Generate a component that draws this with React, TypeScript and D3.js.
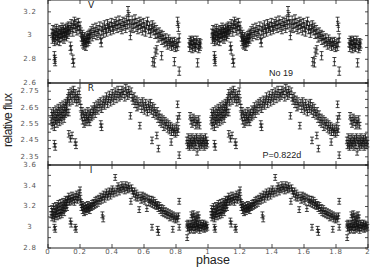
import { useMemo } from "react";
import * as d3 from "d3";

const WIDTH = 374;
const HEIGHT = 267;
const LEFT = 48;
const RIGHT = 368;

// folded light curve, phase 0..1 (drawn twice, 0..2)
const vData: [number, number][] = [
  [0.025, 3.02], [0.028, 2.97], [0.031, 3.05], [0.034, 2.99], [0.037, 3.01], [0.04, 2.95], [0.043, 3.04], [0.046, 3.0],
  [0.049, 2.97], [0.052, 3.06], [0.055, 3.02], [0.058, 2.96], [0.061, 3.0], [0.064, 3.04], [0.067, 2.98], [0.07, 3.02],
  [0.073, 2.95], [0.076, 3.05], [0.079, 3.01], [0.082, 2.98], [0.085, 3.03], [0.088, 3.07], [0.091, 2.99], [0.094, 3.02],
  [0.097, 3.05], [0.1, 2.97], [0.103, 3.03], [0.106, 3.0], [0.109, 3.06], [0.112, 3.02], [0.115, 2.99], [0.118, 3.04],
  [0.121, 3.07], [0.124, 3.01], [0.127, 3.05], [0.13, 3.08], [0.133, 3.03],
  [0.04, 2.83], [0.042, 2.8], [0.045, 2.78], [0.14, 2.91], [0.145, 2.88], [0.155, 2.8], [0.16, 2.77],
  [0.14, 3.05], [0.145, 3.1], [0.15, 3.07], [0.155, 3.03], [0.16, 3.09], [0.165, 3.12], [0.17, 3.06], [0.175, 3.1],
  [0.18, 3.04], [0.185, 3.08], [0.19, 3.11], [0.195, 3.05], [0.2, 3.08], [0.205, 3.03],
  [0.21, 2.99], [0.213, 2.95], [0.216, 3.01], [0.219, 2.93], [0.222, 2.97], [0.225, 2.92], [0.228, 2.99], [0.231, 2.94],
  [0.234, 2.96], [0.237, 2.91], [0.24, 2.98], [0.243, 2.94], [0.246, 2.97], [0.249, 3.0], [0.252, 2.95], [0.255, 2.98],
  [0.258, 3.01], [0.261, 2.97], [0.264, 3.02],
  [0.27, 3.04], [0.276, 2.99], [0.282, 3.06], [0.288, 3.01], [0.294, 3.03], [0.3, 3.07], [0.306, 3.0], [0.312, 3.05],
  [0.318, 3.02], [0.324, 3.08], [0.33, 2.97], [0.333, 2.94], [0.336, 3.04], [0.342, 3.07], [0.348, 3.02], [0.354, 3.09],
  [0.36, 3.05], [0.366, 3.03], [0.372, 3.1], [0.378, 3.06], [0.384, 3.08], [0.39, 3.04], [0.396, 3.11], [0.402, 3.07],
  [0.408, 3.05], [0.414, 3.1], [0.42, 3.08], [0.426, 3.12], [0.432, 3.06], [0.438, 3.09], [0.444, 3.13], [0.45, 3.07],
  [0.456, 3.1], [0.462, 3.05], [0.468, 3.12], [0.474, 3.08], [0.48, 3.11], [0.486, 3.06], [0.492, 3.13], [0.498, 3.09],
  [0.5, 3.21], [0.505, 3.16], [0.51, 3.1], [0.515, 3.0],
  [0.52, 3.08], [0.526, 3.13], [0.532, 3.06], [0.538, 3.1], [0.544, 3.14], [0.55, 3.07], [0.556, 3.11], [0.562, 3.05],
  [0.568, 3.09], [0.574, 3.12], [0.58, 3.06], [0.586, 3.1], [0.592, 3.04], [0.598, 3.11], [0.604, 3.07], [0.61, 3.03],
  [0.616, 3.09], [0.622, 3.12], [0.628, 3.05], [0.634, 3.08], [0.64, 3.02], [0.646, 3.06], [0.652, 3.09], [0.658, 3.04],
  [0.664, 3.07], [0.67, 3.01], [0.676, 3.05],
  [0.682, 3.02], [0.688, 2.98], [0.694, 3.03], [0.7, 2.99], [0.706, 3.01], [0.712, 2.96], [0.718, 3.0], [0.724, 2.97],
  [0.73, 2.94], [0.736, 2.98], [0.742, 2.95], [0.748, 2.92], [0.754, 2.97], [0.76, 2.93], [0.766, 2.95], [0.772, 2.91],
  [0.778, 2.94], [0.784, 2.92], [0.79, 2.95], [0.796, 2.9], [0.802, 2.93], [0.808, 2.91], [0.814, 2.94],
  [0.655, 2.78], [0.665, 2.77], [0.67, 2.86], [0.68, 2.88], [0.71, 2.83], [0.79, 2.78], [0.82, 2.7],
  [0.81, 3.12], [0.815, 3.07], [0.82, 2.98],
  [0.882, 2.94], [0.886, 2.9], [0.89, 2.96], [0.894, 2.92], [0.898, 2.95], [0.902, 2.89], [0.906, 2.93], [0.91, 2.96],
  [0.914, 2.91], [0.918, 2.94], [0.922, 2.9], [0.926, 2.93], [0.93, 2.96], [0.935, 2.77], [0.938, 2.92], [0.942, 2.89],
  [0.946, 2.94], [0.95, 2.91], [0.954, 2.93],
];

const rData: [number, number][] = [
  [0.02, 2.57], [0.023, 2.62], [0.026, 2.54], [0.029, 2.6], [0.032, 2.56], [0.035, 2.63], [0.038, 2.58], [0.041, 2.53],
  [0.044, 2.61], [0.047, 2.57], [0.05, 2.64], [0.053, 2.59], [0.056, 2.55], [0.059, 2.62], [0.062, 2.58], [0.065, 2.65],
  [0.068, 2.6], [0.071, 2.56], [0.074, 2.63], [0.077, 2.59], [0.08, 2.66], [0.083, 2.61], [0.086, 2.57], [0.089, 2.64],
  [0.092, 2.6], [0.095, 2.67], [0.098, 2.62], [0.101, 2.58], [0.104, 2.65], [0.107, 2.61], [0.11, 2.68], [0.113, 2.63],
  [0.116, 2.66], [0.119, 2.62], [0.122, 2.69],
  [0.04, 2.43], [0.045, 2.41], [0.13, 2.49], [0.14, 2.46], [0.15, 2.48], [0.17, 2.44], [0.175, 2.42], [0.13, 2.62],
  [0.125, 2.71], [0.13, 2.74], [0.135, 2.68], [0.14, 2.72], [0.145, 2.75], [0.15, 2.69], [0.155, 2.73], [0.16, 2.76],
  [0.165, 2.7], [0.17, 2.74], [0.175, 2.71], [0.18, 2.68], [0.185, 2.73], [0.19, 2.7], [0.195, 2.75], [0.2, 2.69],
  [0.205, 2.65], [0.209, 2.6], [0.213, 2.63], [0.217, 2.57], [0.221, 2.61], [0.225, 2.55], [0.229, 2.59], [0.233, 2.62],
  [0.237, 2.56], [0.241, 2.6], [0.245, 2.57], [0.249, 2.63], [0.253, 2.58], [0.257, 2.61], [0.261, 2.56], [0.265, 2.62],
  [0.27, 2.59], [0.275, 2.64], [0.28, 2.6], [0.285, 2.63], [0.29, 2.66], [0.295, 2.61], [0.3, 2.64],
  [0.33, 2.55], [0.335, 2.53],
  [0.306, 2.67], [0.312, 2.63], [0.318, 2.68], [0.324, 2.65], [0.33, 2.69], [0.336, 2.64], [0.342, 2.67], [0.348, 2.7],
  [0.354, 2.66], [0.36, 2.69], [0.366, 2.72], [0.372, 2.67], [0.378, 2.7], [0.384, 2.73], [0.39, 2.68], [0.396, 2.71],
  [0.402, 2.74], [0.408, 2.69], [0.414, 2.72], [0.42, 2.75], [0.426, 2.7], [0.432, 2.73], [0.438, 2.76], [0.444, 2.71],
  [0.45, 2.74], [0.456, 2.72], [0.462, 2.76], [0.468, 2.73], [0.474, 2.75], [0.48, 2.71], [0.486, 2.77], [0.492, 2.74],
  [0.498, 2.72], [0.504, 2.76], [0.51, 2.73], [0.515, 2.6], [0.52, 2.75], [0.526, 2.71],
  [0.532, 2.69], [0.538, 2.72], [0.544, 2.67], [0.55, 2.7], [0.556, 2.65], [0.562, 2.69], [0.568, 2.66], [0.574, 2.54],
  [0.58, 2.68], [0.586, 2.64], [0.592, 2.69], [0.598, 2.66], [0.604, 2.63], [0.61, 2.68], [0.616, 2.65], [0.622, 2.62],
  [0.628, 2.67], [0.634, 2.64], [0.64, 2.68], [0.646, 2.63], [0.652, 2.66], [0.658, 2.61], [0.664, 2.65], [0.67, 2.62],
  [0.676, 2.6], [0.682, 2.63],
  [0.688, 2.58], [0.694, 2.61], [0.7, 2.56], [0.706, 2.59], [0.712, 2.55], [0.718, 2.58], [0.724, 2.53], [0.73, 2.57],
  [0.736, 2.54], [0.742, 2.56], [0.748, 2.52], [0.754, 2.55], [0.76, 2.51], [0.766, 2.54], [0.772, 2.5], [0.778, 2.53],
  [0.784, 2.5], [0.79, 2.52], [0.796, 2.49], [0.802, 2.53], [0.808, 2.5], [0.814, 2.52],
  [0.65, 2.45], [0.68, 2.48], [0.69, 2.4], [0.77, 2.44], [0.81, 2.67], [0.81, 2.58], [0.82, 2.36], [0.82, 2.6],
  [0.888, 2.6], [0.894, 2.57], [0.9, 2.55], [0.906, 2.59], [0.912, 2.56], [0.918, 2.58], [0.924, 2.54], [0.93, 2.57],
  [0.936, 2.55], [0.942, 2.58], [0.948, 2.54],
  [0.868, 2.45], [0.872, 2.42], [0.876, 2.47], [0.88, 2.43], [0.884, 2.41], [0.888, 2.46], [0.892, 2.44], [0.896, 2.42],
  [0.9, 2.47], [0.904, 2.43], [0.908, 2.45], [0.912, 2.41], [0.916, 2.46], [0.92, 2.44], [0.924, 2.42], [0.928, 2.47],
  [0.932, 2.38], [0.936, 2.45], [0.94, 2.43], [0.944, 2.46], [0.948, 2.41], [0.952, 2.44], [0.956, 2.47], [0.96, 2.42],
  [0.964, 2.45], [0.968, 2.43], [0.972, 2.46], [0.976, 2.41], [0.98, 2.44], [0.984, 2.47], [0.988, 2.42], [0.992, 2.45],
  [0.996, 2.43],
];

const iData: [number, number][] = [
  [0.02, 3.12], [0.023, 3.18], [0.026, 3.09], [0.029, 3.15], [0.032, 3.11], [0.035, 3.2], [0.038, 3.13], [0.041, 3.08],
  [0.044, 3.17], [0.047, 3.12], [0.05, 3.21], [0.053, 3.15], [0.056, 3.1], [0.059, 3.19], [0.062, 3.13], [0.065, 3.23],
  [0.068, 3.16], [0.071, 3.11], [0.074, 3.2], [0.077, 3.14], [0.08, 3.24], [0.083, 3.17], [0.086, 3.12], [0.089, 3.21],
  [0.092, 3.16], [0.095, 3.25], [0.098, 3.19], [0.101, 3.14], [0.104, 3.23], [0.107, 3.18], [0.11, 3.27], [0.113, 3.21],
  [0.116, 3.24], [0.119, 3.19], [0.122, 3.26],
  [0.04, 3.0], [0.045, 2.98], [0.14, 3.06], [0.145, 3.03], [0.17, 3.0], [0.175, 2.98],
  [0.125, 3.27], [0.13, 3.3], [0.135, 3.24], [0.14, 3.28], [0.145, 3.25], [0.15, 3.31], [0.155, 3.26], [0.16, 3.29],
  [0.165, 3.24], [0.17, 3.3], [0.175, 3.27], [0.18, 3.32], [0.185, 3.26], [0.19, 3.29], [0.195, 3.33], [0.2, 3.36],
  [0.202, 3.28],
  [0.205, 3.24], [0.209, 3.19], [0.213, 3.22], [0.217, 3.16], [0.221, 3.2], [0.225, 3.14], [0.229, 3.18], [0.233, 3.21],
  [0.237, 3.15], [0.241, 3.19], [0.245, 3.17], [0.249, 3.22], [0.253, 3.18], [0.257, 3.2], [0.261, 3.16], [0.265, 3.21],
  [0.27, 3.19], [0.275, 3.23], [0.28, 3.2], [0.285, 3.24], [0.29, 3.21], [0.295, 3.26], [0.3, 3.22],
  [0.34, 3.12], [0.345, 3.08],
  [0.306, 3.27], [0.312, 3.23], [0.318, 3.28], [0.324, 3.25], [0.33, 3.3], [0.336, 3.26], [0.342, 3.29], [0.348, 3.32],
  [0.354, 3.27], [0.36, 3.31], [0.366, 3.34], [0.372, 3.29], [0.378, 3.32], [0.384, 3.35], [0.39, 3.3], [0.396, 3.34],
  [0.402, 3.37], [0.408, 3.32], [0.414, 3.35], [0.42, 3.48], [0.426, 3.33], [0.432, 3.37], [0.438, 3.4], [0.444, 3.34],
  [0.45, 3.38], [0.456, 3.36], [0.462, 3.41], [0.468, 3.37], [0.474, 3.39], [0.48, 3.35], [0.486, 3.41], [0.492, 3.38],
  [0.498, 3.36], [0.504, 3.4], [0.51, 3.37], [0.518, 3.25], [0.522, 3.38], [0.528, 3.35],
  [0.534, 3.32], [0.54, 3.35], [0.546, 3.29], [0.552, 3.33], [0.558, 3.28], [0.564, 3.31], [0.57, 3.17], [0.576, 3.29],
  [0.582, 3.26], [0.588, 3.31], [0.594, 3.27], [0.6, 3.3], [0.606, 3.25], [0.612, 3.29], [0.618, 3.18], [0.624, 3.28],
  [0.63, 3.24], [0.636, 3.27], [0.642, 3.23], [0.648, 3.27], [0.654, 3.22], [0.66, 3.26], [0.666, 3.21], [0.672, 3.24],
  [0.678, 3.2], [0.684, 3.22],
  [0.69, 3.18], [0.696, 3.21], [0.702, 3.16], [0.708, 3.19], [0.714, 3.14], [0.72, 3.18], [0.726, 3.13], [0.732, 3.16],
  [0.738, 3.12], [0.744, 3.15], [0.75, 3.11], [0.756, 3.14], [0.762, 3.09], [0.768, 3.13], [0.774, 3.1], [0.78, 3.12],
  [0.786, 3.08], [0.792, 3.11], [0.798, 3.07], [0.804, 3.1], [0.81, 3.08], [0.816, 3.11],
  [0.65, 3.0], [0.685, 2.98], [0.69, 2.95], [0.78, 2.98], [0.82, 3.25], [0.82, 3.0], [0.87, 2.9],
  [0.896, 3.12], [0.902, 3.09], [0.908, 3.13], [0.914, 3.1], [0.92, 3.07], [0.926, 3.11], [0.932, 3.08], [0.938, 3.12],
  [0.944, 3.09],
  [0.868, 3.03], [0.872, 2.99], [0.876, 3.04], [0.88, 3.0], [0.884, 2.97], [0.888, 3.03], [0.892, 3.01], [0.896, 2.98],
  [0.9, 3.04], [0.904, 3.0], [0.908, 3.02], [0.912, 2.97], [0.916, 3.03], [0.92, 3.0], [0.924, 2.98], [0.928, 3.04],
  [0.932, 3.01], [0.936, 2.99], [0.94, 3.03], [0.944, 3.0], [0.948, 2.97], [0.952, 3.02], [0.956, 3.04], [0.96, 2.99],
  [0.964, 3.02], [0.968, 3.0], [0.972, 3.04], [0.976, 2.98], [0.98, 3.01], [0.984, 3.03], [0.988, 2.99], [0.992, 3.02],
  [0.996, 3.0],
];

const bandNames = ["V", "R", "I"];
const bandErrors = [0.035, 0.02, 0.028];
const bandDomains: [number, number][] = [[2.6, 3.3], [2.3, 2.8], [2.8, 3.6]];
const minorSteps = [0.1, 0.05, 0.1];
const vTickLabels = ["2.6", "2.8", "3", "3.2"];
const rTickLabels = ["2.35", "2.45", "2.55", "2.65", "2.75"];
const iTickLabels = ["2.8", "3", "3.2", "3.4", "3.6"];
const phaseTicks = [0, 0.2, 0.4, 0.6, 0.8, 1, 1.2, 1.4, 1.6, 1.8, 2];
const phaseTickLabels = ["0", "0.2", "0.4", "0.6", "0.8", "1", "1.2", "1.4", "1.6", "1.8", "2"];

const PANEL_EDGES = [0, 83, 165, 248];

function Panel({ index, data, labels }: { index: number; data: [number, number][]; labels: string[] }) {
  const x = d3.scaleLinear().domain([0, 2]).range([LEFT, RIGHT]);
  const top = PANEL_EDGES[index];
  const bottom = PANEL_EDGES[index + 1];
  const y = d3.scaleLinear().domain(bandDomains[index]).range([bottom, top]);
  const err = bandErrors[index];

  const points = useMemo(() => {
    const out: [number, number][] = [];
    data.forEach(([p, m]) => {
      out.push([p, m]);
      out.push([p + 1, m]);
    });
    return out;
  }, [data]);

  const [lo, hi] = bandDomains[index];
  const step = minorSteps[index];
  const minor = d3.range(Math.round((hi - lo) / step) + 1).map((k) => lo + k * step);

  return (
    <g>
      {points.map(([p, m], i) => {
        const cx = x(p);
        const y1 = y(m + err);
        const y2 = y(m - err);
        return (
          <g key={i} stroke="#111" strokeWidth={0.8}>
            <line x1={cx} x2={cx} y1={y1} y2={y2} />
            <line x1={cx - 2} x2={cx + 2} y1={y1} y2={y1} />
            <line x1={cx - 2} x2={cx + 2} y1={y2} y2={y2} />
            <line x1={cx - 1.6} x2={cx + 1.6} y1={y(m)} y2={y(m)} />
          </g>
        );
      })}
      {minor.map((v, i) => (
        <g key={"t" + i} stroke="#222" strokeWidth={0.8}>
          <line x1={LEFT} x2={LEFT + 3} y1={y(v)} y2={y(v)} />
          <line x1={RIGHT - 3} x2={RIGHT} y1={y(v)} y2={y(v)} />
        </g>
      ))}
      {phaseTicks.map((t, i) => (
        <g key={"x" + i} stroke="#222" strokeWidth={0.8}>
          <line x1={x(t)} x2={x(t)} y1={top} y2={top + 4} />
          <line x1={x(t)} x2={x(t)} y1={bottom} y2={bottom - 4} />
        </g>
      ))}
      {labels.map((l, i) => (
        <text
          key={"l" + i}
          x={30}
          y={y(+l)}
          textAnchor="middle"
          dominantBaseline="middle"
          fontSize={7}
          letterSpacing={0.8}
          fill="#555"
          fontFamily="DejaVu Sans, sans-serif"
        >
          {l}
        </text>
      ))}
      <rect x={LEFT} y={top} width={RIGHT - LEFT} height={bottom - top} fill="none" stroke="#222" strokeWidth={1} />
      <text x={91} y={top + 8} textAnchor="middle" fontSize={9} fill="#222" fontFamily="DejaVu Sans, sans-serif">
        {bandNames[index]}
      </text>
    </g>
  );
}

export default function App() {
  const x = d3.scaleLinear().domain([0, 2]).range([LEFT, RIGHT]);
  return (
    <svg
      width={WIDTH}
      height={HEIGHT}
      style={{ position: "absolute", left: 0, top: 0, background: "#fff" }}
      fontFamily="Liberation Sans, Arial, sans-serif"
    >
      <Panel index={0} data={vData} labels={vTickLabels} />
      <Panel index={1} data={rData} labels={rTickLabels} />
      <Panel index={2} data={iData} labels={iTickLabels} />
      {phaseTicks.map((t, i) => (
        <text
          key={i}
          x={x(t)}
          y={254}
          textAnchor="middle"
          fontSize={7}
          letterSpacing={0.8}
          fill="#555"
          fontFamily="DejaVu Sans, sans-serif"
        >
          {phaseTickLabels[i]}
        </text>
      ))}
      <text x={213} y={263.5} textAnchor="middle" fontSize={12.5} fill="#222">
        phase
      </text>
      <text
        transform="translate(12,120) rotate(-90)"
        textAnchor="middle"
        fontSize={12}
        textLength={54}
        fill="#222"
      >
        relative flux
      </text>
      <text x={281} y={76} textAnchor="middle" fontSize={9} fill="#222">
        No 19
      </text>
      <text x={282} y={158} textAnchor="middle" fontSize={9} fill="#222">
        P=0.822d
      </text>
    </svg>
  );
}
